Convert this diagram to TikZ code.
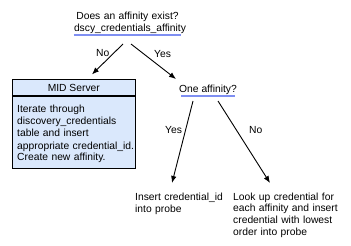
\documentclass[tikz,border=0pt]{standalone}
\usepackage{fontspec}
\setmainfont{Liberation Sans}
\usetikzlibrary{arrows.meta}
\definecolor{boxfill}{HTML}{DAE8FC}
\definecolor{uline}{HTML}{7F8FF2}
\begin{document}
\begin{tikzpicture}[x=1pt,y=-1pt,
  every node/.style={font=\fontsize{10.3}{12}\selectfont},
  question/.style={inner xsep=0pt,inner ysep=1pt,align=center,anchor=south},
  underline/.style={draw=uline,line width=1.3pt},
  plain/.style={inner sep=0pt,align=left,anchor=base west},
  arr/.style={-{Latex[length=7pt,width=5.5pt]},line width=0.9pt},
  lbl/.style={inner sep=0pt,anchor=base}]
  \useasboundingbox[fill=white] (0,0) rectangle (351,246);

  % first decision
  \node[question,text width=107pt] (q) at (127.5,35)
    {Does an affinity exist?\\dscy\_credentials\_affinity};
  \draw[underline] (q.south west) -- (q.south east);

  % MID Server box with header
  \node[draw=black,line width=1.2pt,fill=boxfill,minimum width=122.7pt,minimum height=89.4pt,inner sep=0pt]
    (mid) at (73.8,124) {};
  \draw[line width=1.2pt] ([yshift=-17.4pt]mid.north west) -- ([yshift=-17.4pt]mid.north east);
  \node[lbl] (midhead) at (73.8,92) {MID Server};
  \node[plain,text width=118pt] (midbody) at (17,113)
    {Iterate through\\discovery\_credentials\\table and insert\\appropriate credential\_id.\\Create new affinity.};

  % second decision
  \node[question] (one) at (208,96) {One affinity?};
  \draw[underline] ([xshift=-27pt]one.south) -- ([xshift=27pt]one.south);

  % outcomes
  \node[plain,text width=95pt] (ins) at (135,200) {Insert credential\_id\\into probe};
  \node[plain,text width=115pt,font=\fontsize{10.3}{11.8}\selectfont] (look) at (233,200)
    {Look up credential for\\each affinity and insert\\credential with lowest\\order into probe};

  % connectors
  \draw[arr] ([shift={(-4.5,9)}]q.south) -- ([shift={(18.2,-4.3)}]mid.north)
    node[lbl,pos=0.3,xshift=-11pt,yshift=-3pt] (lno) {No};
  \draw[arr] ([shift={(3.5,9)}]q.south) -- ([shift={(-32,-17)}]one.south)
    node[lbl,pos=0.3,xshift=18pt,yshift=-3pt] (lyes) {Yes};
  \draw[arr] ([shift={(-15,5)}]one.south) -- ([shift={(37,-17)}]ins.base west)
    node[lbl,pos=0.4,xshift=-11pt] (lyes2) {Yes};
  \draw[arr] ([shift={(10,5)}]one.south) -- ([shift={(37,-17)}]look.base west)
    node[lbl,pos=0.4,xshift=17pt] (lno2) {No};
\end{tikzpicture}
\end{document}
